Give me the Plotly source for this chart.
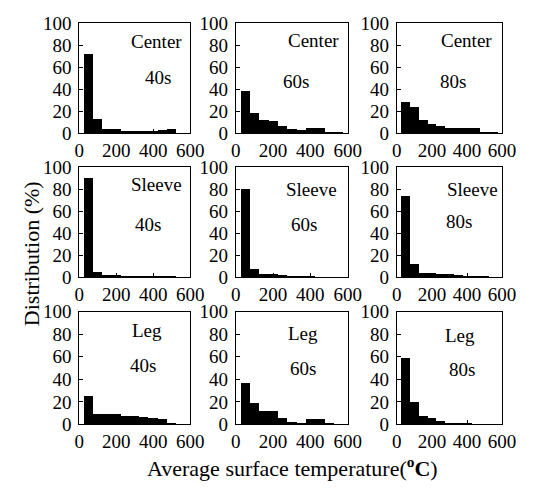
import plotly.graph_objects as go

W, H = 546, 491

bin_centers = [50, 100, 150, 200, 250, 300, 350, 400, 450, 500, 550]

center_40 = [72, 13, 4, 4, 2, 2, 2, 2, 3, 4, 0]
center_60 = [38, 18, 12, 11, 6, 4, 3, 5, 4.5, 1, 0.5]
center_80 = [28, 24, 12, 8.5, 6.5, 5, 4.3, 4.3, 5, 1.4, 0.5]
sleeve_40 = [90, 5, 2, 1.5, 1, 1, 1, 1, 1, 0.5, 0]
sleeve_60 = [80, 7, 3, 2.5, 1.5, 1, 1, 0.5, 0, 0, 0]
sleeve_80 = [74, 12, 4, 3.5, 3, 2.5, 1.5, 1, 0.5, 0.3, 0]
leg_40 = [26, 10, 9.5, 10, 8, 7.5, 7, 6, 5.5, 1, 0.3]
leg_60 = [37, 19, 12, 12, 6, 3, 2, 5, 5, 1.5, 0.5]
leg_80 = [59, 20, 8, 6, 3.5, 1.5, 1, 1, 0.5, 0.5, 0]

regions = ["Center", "Sleeve", "Leg"]
times = ["40s", "60s", "80s"]
series = [[center_40, center_60, center_80],
          [sleeve_40, sleeve_60, sleeve_80],
          [leg_40, leg_60, leg_80]]

x_ticks = [0, 200, 400, 600]
y_ticks = [0, 20, 40, 60, 80, 100]

# layout in pixels
col_px = [(77, 192), (239, 355), (406, 515)]
row_px = [(14, 129), (164, 279), (315, 433)]
region_pos = [[(157, 33), (320, 32), (478, 32)],
              [(157, 182), (318, 187), (484, 187)],
              [(147, 335), (309, 338), (471, 340)]]
time_pos = [[(158, 71), (302, 75), (464, 75)],
            [(148, 224), (310, 224), (470, 221)],
            [(143, 371), (309, 374), (473, 376)]]

FONT = "Liberation Serif, Times New Roman, serif"

fig = go.Figure()
layout = {}
annotations = []
k = 0
for r in range(3):
    for c in range(3):
        k += 1
        xa = "x" if k == 1 else f"x{k}"
        ya = "y" if k == 1 else f"y{k}"
        fig.add_trace(go.Bar(x=bin_centers, y=series[r][c], width=50,
                             marker=dict(color="black", line=dict(width=0)),
                             xaxis=xa, yaxis=ya, showlegend=False))
        x0, x1 = col_px[c]
        y0, y1 = row_px[r]
        axis_common = dict(showline=True, linecolor="black", linewidth=1, mirror=True,
                           ticks="inside", ticklen=4, tickcolor="black",
                           showgrid=False, zeroline=False,
                           tickfont=dict(family=FONT, size=19, color="black"))
        layout["xaxis" if k == 1 else f"xaxis{k}"] = dict(
            domain=[x0 / W, x1 / W], anchor=ya, range=[0, 600],
            tickvals=x_ticks, ticktext=[str(v) for v in x_ticks], **axis_common)
        layout["yaxis" if k == 1 else f"yaxis{k}"] = dict(
            domain=[1 - y1 / H, 1 - y0 / H], anchor=xa, range=[0, 100],
            tickvals=y_ticks, ticktext=[str(v) for v in y_ticks],
            ticklabelstandoff=3, **axis_common)
        px_, py_ = region_pos[r][c]
        annotations.append(dict(text=regions[r], x=px_ / W, y=1 - py_ / H,
                                xref="paper", yref="paper", showarrow=False,
                                xanchor="center", yanchor="middle",
                                font=dict(family=FONT, size=19, color="black")))
        px_, py_ = time_pos[r][c]
        annotations.append(dict(text=times[c], x=px_ / W, y=1 - py_ / H,
                                xref="paper", yref="paper", showarrow=False,
                                xanchor="center", yanchor="middle",
                                font=dict(family=FONT, size=19, color="black")))

annotations.append(dict(text="Average surface temperature(<b><sup>o</sup>C</b>)",
                        x=298 / W, y=1 - 477 / H, xref="paper", yref="paper",
                        showarrow=False, xanchor="center", yanchor="middle",
                        font=dict(family=FONT, size=22, color="black")))
annotations.append(dict(text="Distribution (%)", x=27 / W, y=1 - 255 / H,
                        xref="paper", yref="paper", showarrow=False, textangle=-90,
                        xanchor="center", yanchor="middle",
                        font=dict(family=FONT, size=22, color="black")))

fig.update_layout(width=W, height=H, margin=dict(l=0, r=0, t=0, b=0),
                  paper_bgcolor="white", plot_bgcolor="white", bargap=0,
                  annotations=annotations, **layout)

fig.write_html("out.html")
